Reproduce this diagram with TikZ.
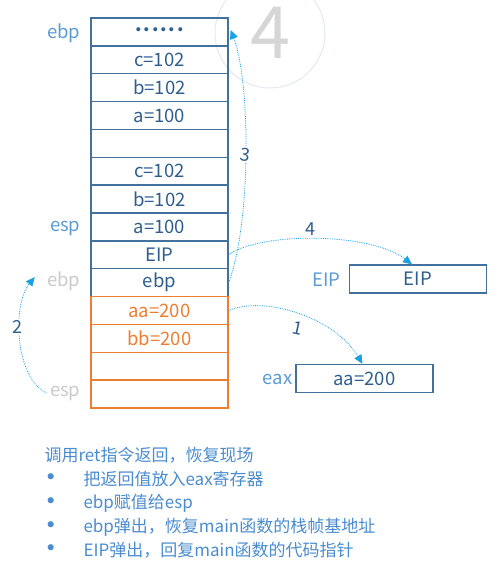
\documentclass[tikz,border=0pt]{standalone}
\usepackage{fontspec}
\setmainfont{Noto Sans CJK SC}
\newfontfamily\dotfont{DejaVu Sans}
\usetikzlibrary{arrows.meta}
\definecolor{cellblue}{HTML}{41719C}
\definecolor{textblue}{HTML}{2E5E8E}
\definecolor{regblue}{HTML}{5B9BD5}
\definecolor{oldgrey}{HTML}{CACACA}
\definecolor{stackorange}{HTML}{ED7D31}
\definecolor{flowcyan}{HTML}{1BA1E2}
\definecolor{notecolor}{HTML}{4A8CCF}
\definecolor{ringgrey}{HTML}{E3E8EF}
\definecolor{digitgrey}{HTML}{D6D6D6}
\tikzset{
	cell/.style={draw=cellblue, line width=1.3pt, minimum width=137pt, minimum height=27.86pt, inner sep=0pt, text=textblue, font=\fontsize{18.5}{21}\selectfont},
	newcell/.style={cell, draw=stackorange, text=stackorange},
	reg/.style={anchor=east, text=regblue, font=\fontsize{18.5}{21}\selectfont},
	oldreg/.style={reg, text=oldgrey},
	flow/.style={flowcyan, densely dotted, line width=0.8pt, -{Triangle[length=9pt,width=8pt]}},
	steplbl/.style={fill=white, inner sep=1pt, text=textblue, font=\fontsize{18}{21}\selectfont},
	note/.style={anchor=west, text=notecolor, font=\fontsize{17}{20}\selectfont},
	bullet/.style={note, font=\dotfont\fontsize{21}{22}\selectfont}
}

\begin{document}
\begin{tikzpicture}[x=1pt, y=-1pt]
			%%%%% START %%%%%
			\useasboundingbox (0, 0) rectangle (499, 579);
			\clip (0, 0) rectangle (499, 579);
			
			\draw[ringgrey, line width=1pt] (270, 33) circle (55);
			\node[inner sep=0pt, text=digitgrey, font=\fontsize{72}{72}\selectfont] (bignum) at (270, 33) {4};
			
			% old frame
			\node[cell] (r1) at (159.5, 31.93) {\raisebox{0.22em}{\textbf{.\kern2pt.\kern2pt.\kern2pt.\kern2pt.\kern2pt.}}};
			\node[cell] (r2) at (159.5, 59.79) {c=102};
			\node[cell] (r3) at (159.5, 87.64) {b=102};
			\node[cell] (r4) at (159.5, 115.5) {a=100};
			\node[cell] (r5) at (159.5, 143.36) {};
			\node[cell] (r6) at (159.5, 171.21) {c=102};
			\node[cell] (r7) at (159.5, 199.07) {b=102};
			\node[cell] (r8) at (159.5, 226.93) {a=100};
			\node[cell] (r9) at (159.5, 254.79) {EIP};
			\node[cell] (r10) at (159.5, 282.64) {ebp};
			
			% new frame
			\node[newcell] (r11) at (159.5, 310.5) {aa=200};
			\node[newcell] (r12) at (159.5, 338.36) {bb=200};
			\node[newcell] (r13) at (159.5, 366.21) {};
			\node[newcell] (r14) at (159.5, 394.07) {};
			
			\node[reg] (ebpnow) at (84, 33) {ebp};
			\node[reg] (espnow) at (84, 228) {esp};
			\node[oldreg] (ebpold) at (84, 281) {ebp};
			\node[oldreg] (espold) at (84, 393) {esp};
			
			\node[cell] (eipbox) at (418, 279) {EIP};
			\node[reg] (eiplbl) at (344, 280) {EIP};
			\node[cell] (eaxbox) at (364.5, 378.5) {aa=200};
			\node[reg] (eaxlbl) at (296, 379) {eax};
			
			% steps
			\draw[flow] (r11.east) .. controls (265, 295) and (335, 318) .. ([xshift=-2pt]eaxbox.north);
			\node[steplbl] (n1) at (298, 328) {\rotatebox{-12}{1}};
			
			\draw[flow] (espold.west) .. controls (15, 378) and (12, 305) .. ([xshift=-9pt, yshift=4pt]ebpold.west);
			\node[steplbl] (n2) at (17, 327) {2};
			
			\draw[flow] (r10.east) .. controls (252, 220) and (250, 80) .. ([xshift=2pt, yshift=2pt]r1.east);
			\node[steplbl] (n3) at (245, 155) {\rotatebox{-8}{3}};
			
			\draw[flow] (r9.east) .. controls (260, 232) and (370, 232) .. ([xshift=-6pt]eipbox.north);
			\node[steplbl] (n4) at (310, 229) {4};
			
			% notes
			\node[note] (t0) at (41, 455) {调用ret指令返回，恢复现场};
			\node[bullet] (b1) at (41, 479) {•};
			\node[note] (t1) at (80, 479) {把返回值放入eax寄存器};
			\node[bullet] (b2) at (41, 503) {•};
			\node[note] (t2) at (80, 503) {ebp赋值给esp};
			\node[bullet] (b3) at (41, 527) {•};
			\node[note] (t3) at (80, 527) {ebp弹出，恢复main函数的栈帧基地址};
			\node[bullet] (b4) at (41, 550) {•};
			\node[note] (t4) at (80, 550) {EIP弹出，回复main函数的代码指针};
			
			%%%%% END %%%%%
\end{tikzpicture}
\end{document}
